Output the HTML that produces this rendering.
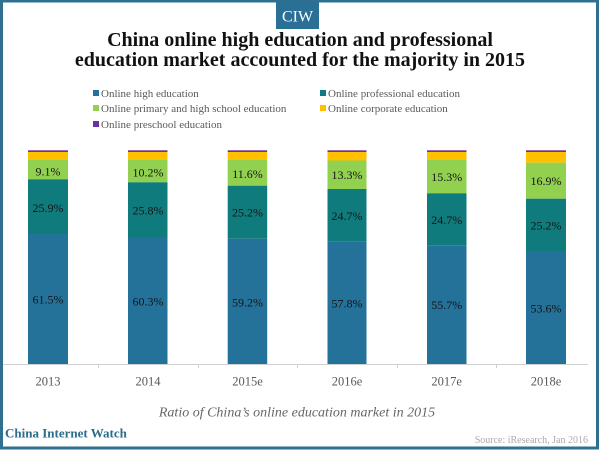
<!DOCTYPE html>
<html><head><meta charset="utf-8"><style>
html,body{margin:0;padding:0;background:#fff;}
svg{display:block;}
</style></head><body>
<svg width="600" height="450" viewBox="0 0 600 450" xmlns="http://www.w3.org/2000/svg">
<rect x="0" y="0" width="600" height="450" fill="#fff"/>
<!-- frame -->
<rect x="1.5" y="1" width="596" height="447" fill="none" stroke="#2f6f8f" stroke-width="3"/>
<!-- CIW box -->
<rect x="276" y="2" width="43" height="27" fill="#2a7096"/>
<text x="297.5" y="21.5" text-anchor="middle" font-family="Liberation Serif, serif" font-size="16" fill="#fff">CIW</text>
<!-- title -->
<text x="300" y="46" text-anchor="middle" font-family="Liberation Serif, serif" font-weight="bold" font-size="20" fill="#111">China online high education and professional</text>
<text x="300" y="66" text-anchor="middle" font-family="Liberation Serif, serif" font-weight="bold" font-size="20" fill="#111">education market accounted for the majority in 2015</text>
<!-- legend -->
<g font-family="Liberation Serif, serif" font-size="11" fill="#595959">
<rect x="93" y="90" width="6" height="6" fill="#24719a"/><text x="101" y="97">Online high education</text>
<rect x="320" y="90" width="6" height="6" fill="#0f7b7c"/><text x="328" y="97">Online professional education</text>
<rect x="93" y="105" width="6" height="6" fill="#92d050"/><text x="101" y="112">Online primary and high school education</text>
<rect x="320" y="105" width="6" height="6" fill="#ffc000"/><text x="328" y="112">Online corporate education</text>
<rect x="93" y="121" width="6" height="6" fill="#7030a0"/><text x="101" y="128">Online preschool education</text>
</g>
<!-- bars -->
<g>
<rect x="28" y="150.3" width="40" height="1.7" fill="#7030a0"/>
<rect x="28" y="152" width="40" height="8" fill="#ffc000"/>
<rect x="28" y="160" width="40" height="19.3" fill="#92d050"/>
<rect x="28" y="179.3" width="40" height="54.7" fill="#0f7b7c"/>
<rect x="28" y="234" width="40" height="130" fill="#24719a"/>
<rect x="128" y="150.3" width="39.5" height="1.7" fill="#7030a0"/>
<rect x="128" y="152" width="39.5" height="8" fill="#ffc000"/>
<rect x="128" y="160" width="39.5" height="22.3" fill="#92d050"/>
<rect x="128" y="182.3" width="39.5" height="54.7" fill="#0f7b7c"/>
<rect x="128" y="237" width="39.5" height="127" fill="#24719a"/>
<rect x="227.7" y="150.3" width="39.5" height="1.7" fill="#7030a0"/>
<rect x="227.7" y="152" width="39.5" height="8" fill="#ffc000"/>
<rect x="227.7" y="160" width="39.5" height="25.7" fill="#92d050"/>
<rect x="227.7" y="185.7" width="39.5" height="53" fill="#0f7b7c"/>
<rect x="227.7" y="238.7" width="39.5" height="125.3" fill="#24719a"/>
<rect x="327.5" y="150.3" width="39" height="1.7" fill="#7030a0"/>
<rect x="327.5" y="152" width="39" height="8.5" fill="#ffc000"/>
<rect x="327.5" y="160.5" width="39" height="28.5" fill="#92d050"/>
<rect x="327.5" y="189" width="39" height="52.7" fill="#0f7b7c"/>
<rect x="327.5" y="241.7" width="39" height="122.3" fill="#24719a"/>
<rect x="427" y="150.3" width="39.5" height="1.7" fill="#7030a0"/>
<rect x="427" y="152" width="39.5" height="8" fill="#ffc000"/>
<rect x="427" y="160" width="39.5" height="33.3" fill="#92d050"/>
<rect x="427" y="193.3" width="39.5" height="52" fill="#0f7b7c"/>
<rect x="427" y="245.3" width="39.5" height="118.7" fill="#24719a"/>
<rect x="526" y="150.3" width="40" height="1.7" fill="#7030a0"/>
<rect x="526" y="152" width="40" height="10.7" fill="#ffc000"/>
<rect x="526" y="162.7" width="40" height="36" fill="#92d050"/>
<rect x="526" y="198.7" width="40" height="52.3" fill="#0f7b7c"/>
<rect x="526" y="251" width="40" height="113" fill="#24719a"/>
</g>
<!-- data labels -->
<g font-family="Liberation Serif, serif" font-size="12" fill="#151515" text-anchor="middle">
<text x="48" y="175.5">9.1%</text>
<text x="48" y="211.9">25.9%</text>
<text x="48" y="303.5">61.5%</text>
<text x="148" y="176.5">10.2%</text>
<text x="148" y="214.5">25.8%</text>
<text x="148" y="305.5">60.3%</text>
<text x="247.5" y="177.9">11.6%</text>
<text x="247.5" y="216.5">25.2%</text>
<text x="247.5" y="306.5">59.2%</text>
<text x="347" y="179.2">13.3%</text>
<text x="347" y="220.2">24.7%</text>
<text x="347" y="307.5">57.8%</text>
<text x="446.7" y="180.9">15.3%</text>
<text x="446.7" y="224.2">24.7%</text>
<text x="446.7" y="309.2">55.7%</text>
<text x="546" y="185.2">16.9%</text>
<text x="546" y="229.5">25.2%</text>
<text x="546" y="312.5">53.6%</text>
</g>
<!-- axis -->
<line x1="3" y1="364.5" x2="588" y2="364.5" stroke="#d0d0d0" stroke-width="1"/>
<g stroke="#d0d0d0" stroke-width="1">
<line x1="98.5" y1="364" x2="98.5" y2="368"/>
<line x1="198.5" y1="364" x2="198.5" y2="368"/>
<line x1="297.5" y1="364" x2="297.5" y2="368"/>
<line x1="397.5" y1="364" x2="397.5" y2="368"/>
<line x1="496.5" y1="364" x2="496.5" y2="368"/>
</g>
<g font-family="Liberation Serif, serif" font-size="12.5" fill="#595959" text-anchor="middle">
<text x="48" y="385.5">2013</text>
<text x="148" y="385.5">2014</text>
<text x="247.5" y="385.5">2015e</text>
<text x="347" y="385.5">2016e</text>
<text x="446.7" y="385.5">2017e</text>
<text x="546" y="385.5">2018e</text>
</g>
<text x="297" y="416.5" text-anchor="middle" font-family="Liberation Serif, serif" font-style="italic" font-size="14" fill="#666">Ratio of China’s online education market in 2015</text>
<text x="5" y="437.5" font-family="Liberation Serif, serif" font-weight="bold" font-size="13" fill="#2b6c8a">China Internet Watch</text>
<text x="588" y="443" text-anchor="end" font-family="Liberation Serif, serif" font-size="10" fill="#aaaaaa">Source: iResearch, Jan 2016</text>
</svg>
</body></html>
